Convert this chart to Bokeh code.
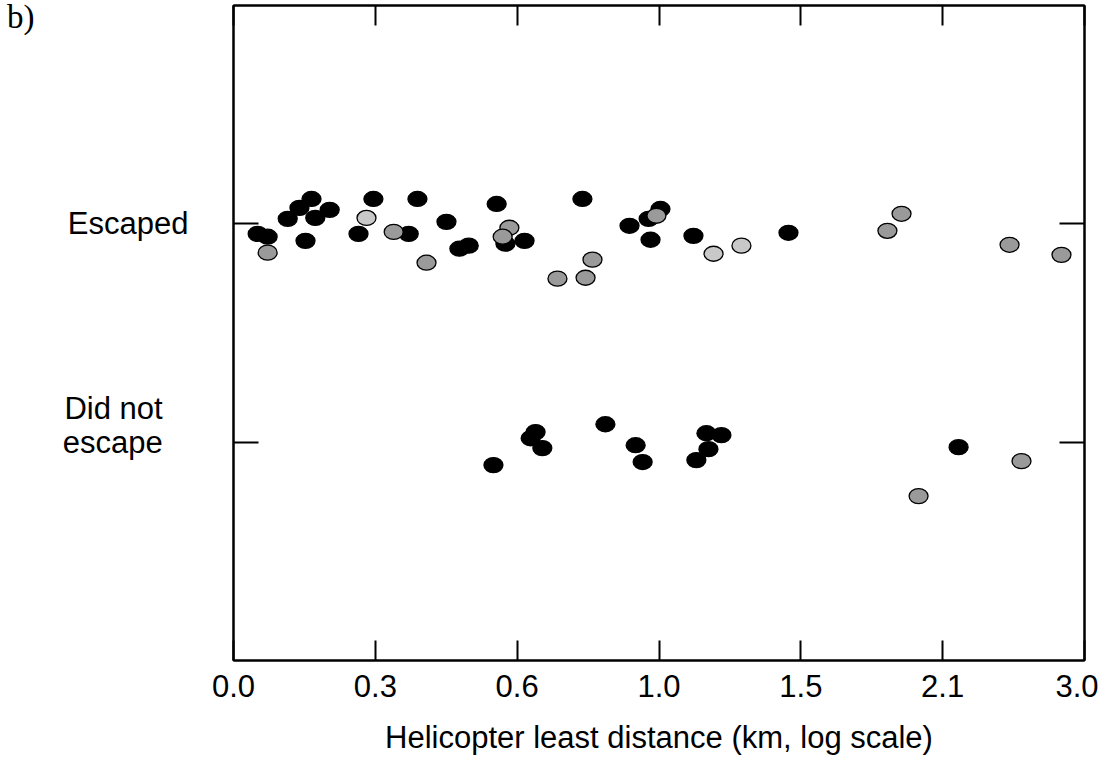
import numpy as np
from bokeh.plotting import figure
from bokeh.models import Range1d, LinearAxis, FixedTicker, ColumnDataSource, Div
from bokeh.layouts import row
from bokeh.embed import file_html
from bokeh.resources import INLINE

# ---- data (distances in km; jitter in category units) ----
esc_black_km = [0.040, 0.057, 0.092, 0.113, 0.135, 0.142, 0.169, 0.124, 0.255, 0.225,
                0.329, 0.348, 0.413, 0.443, 0.465, 0.533, 0.555, 0.604, 0.762, 1.000,
                0.962, 0.902, 0.968, 1.110, 1.462]
esc_black_jit = [-0.046, -0.059, 0.023, 0.073, 0.114, 0.027, 0.064, -0.078, 0.114, -0.046,
                 -0.046, 0.114, 0.009, -0.114, -0.100, 0.091, -0.091, -0.078, 0.114, 0.068,
                 0.023, -0.009, -0.073, -0.055, -0.041]

esc_gray_km = [0.057, 0.297, 0.368, 0.565, 0.548, 0.987, 0.791, 0.692, 0.771,
               1.958, 1.891, 2.525, 2.835]
esc_gray_jit = [-0.132, -0.037, -0.178, -0.018, -0.059, 0.037, -0.164, -0.251, -0.247,
                0.046, -0.032, -0.096, -0.142]

esc_light_km = [0.241, 1.180, 1.281]
esc_light_jit = [0.027, -0.137, -0.100]

not_black_km = [0.525, 0.633, 0.620, 0.651, 0.829, 0.921, 0.943, 1.155, 1.208, 1.162, 1.120, 2.245]
not_black_jit = [-0.105, 0.046, 0.018, -0.027, 0.082, -0.014, -0.091, 0.041, 0.032, -0.032, -0.082, -0.023]

not_gray_km = [2.594, 2.041]
not_gray_jit = [-0.087, -0.247]

cat_level = {"Did not escape": 1, "Escaped": 2}
cat_text = {1: "Did not\u00a0\u00a0\u00a0\nescape\u00a0\u00a0\u00a0\n\u00a0", 2: "Escaped"}

tick_values = [0.0, 0.1, 0.2, 0.3, 0.4, 0.5, 0.6]   # log10(km + 1)
tick_labels = ["0.0", "0.3", "0.6", "1.0", "1.5", "2.1", "3.0"]

panel_tag = "b)"

FONT = "Liberation Sans"
FS = "31px"
TAG_W = 40

def tx(km):
    return np.log10(np.asarray(km) + 1.0)

p = figure(width=1098 - TAG_W, height=763, output_backend="svg", toolbar_location=None,
           x_range=Range1d(0, 0.6), y_range=Range1d(0, 3),
           min_border_left=233 - TAG_W, min_border_right=14, min_border_top=5, min_border_bottom=103,
           background_fill_color="white", border_fill_color="white", margin=(0, 0, 0, 0))
p.grid.visible = False
p.outline_line_color = "black"
p.outline_line_width = 2

xa = p.xaxis[0]
xa.ticker = FixedTicker(ticks=tick_values)
xa.major_label_overrides = {v: l for v, l in zip(tick_values, tick_labels)}
xa.axis_label = "Helicopter least distance (km, log scale)"

ya = p.yaxis[0]
ya.ticker = FixedTicker(ticks=[1, 2])
ya.major_label_overrides = cat_text

top = LinearAxis(ticker=FixedTicker(ticks=tick_values))
right = LinearAxis(ticker=FixedTicker(ticks=[1, 2]))
p.add_layout(top, "above")
p.add_layout(right, "right")

for ax in [xa, top]:
    ax.major_tick_in = 20
for ax in [ya, right]:
    ax.major_tick_in = 25
for ax in [xa, ya, top, right]:
    ax.major_tick_out = 0
    ax.minor_tick_line_color = None
    ax.axis_line_color = "black"
    ax.axis_line_width = 2
    ax.major_tick_line_color = "black"
    ax.major_tick_line_width = 2
    ax.major_label_text_font = FONT
    ax.major_label_text_font_size = FS
    ax.major_label_text_color = "black"

top.major_label_text_font_size = "0px"
top.major_label_text_color = None
right.major_label_text_font_size = "0px"
right.major_label_text_color = None

xa.major_label_standoff = 14
xa.axis_label_text_font = FONT
xa.axis_label_text_font_size = FS
xa.axis_label_text_font_style = "normal"
xa.axis_label_text_color = "black"
xa.axis_label_standoff = 20

ya.major_label_standoff = 45
ya.major_label_text_align = "right"
ya.major_label_text_line_height = 0.95

def draw(km, jit, level, fill, line):
    src = ColumnDataSource(dict(x=tx(km), y=level + np.asarray(jit)))
    p.ellipse(x="x", y="y", width=19, height=15, width_units="screen", height_units="screen",
              source=src, fill_color=fill, line_color=line, line_width=1.3)

draw(esc_black_km, esc_black_jit, cat_level["Escaped"], "black", "black")
draw(esc_gray_km, esc_gray_jit, cat_level["Escaped"], "#9a9a9a", "black")
draw(esc_light_km, esc_light_jit, cat_level["Escaped"], "#c8c8c8", "black")
draw(not_black_km, not_black_jit, cat_level["Did not escape"], "black", "black")
draw(not_gray_km, not_gray_jit, cat_level["Did not escape"], "#9a9a9a", "black")

tag = Div(text=('<div style="font-family:\'Liberation Serif\';font-size:33px;line-height:33px;'
                'margin:1px 0 0 7px;color:black;">%s</div>' % panel_tag),
          width=TAG_W, height=763, margin=(0, 0, 0, 0))

layout = row(tag, p, spacing=0, margin=(0, 0, 0, 0))

open("out.html", "w").write(file_html(layout, INLINE))
